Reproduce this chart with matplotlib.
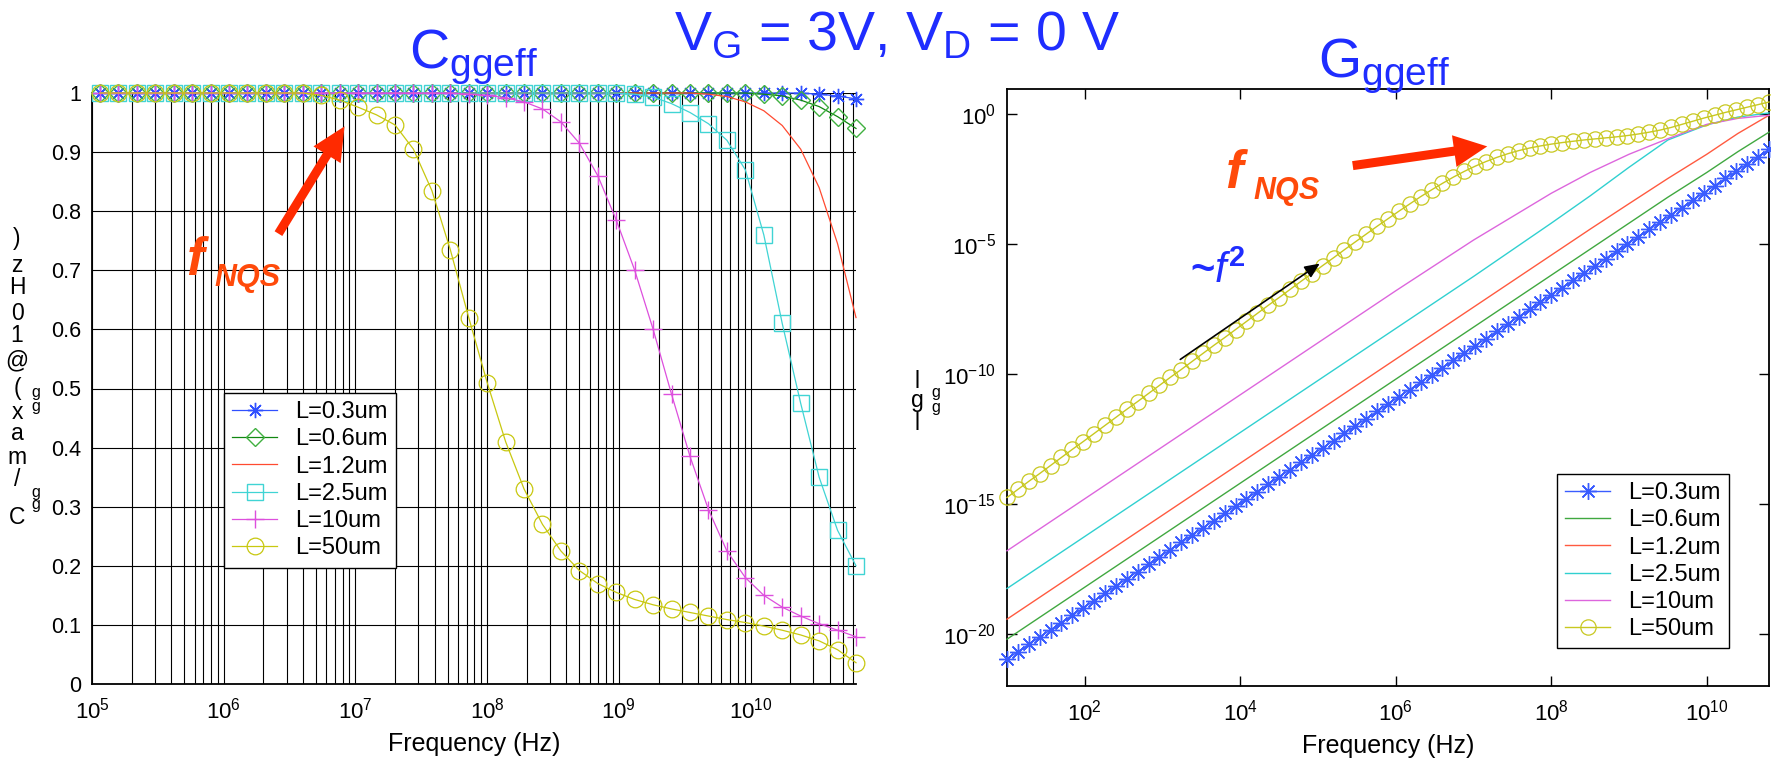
import numpy as np
import matplotlib
matplotlib.use('Agg')
import matplotlib.pyplot as plt
from matplotlib.patches import FancyArrowPatch
from matplotlib.ticker import FixedLocator, NullLocator, NullFormatter, LogFormatterMathtext, FuncFormatter

plt.rcParams['font.family'] = ['Liberation Sans', 'DejaVu Sans']
plt.rcParams['mathtext.fontset'] = 'custom'
plt.rcParams['mathtext.rm'] = 'Liberation Sans'
plt.rcParams['mathtext.it'] = 'Liberation Sans:italic'
plt.rcParams['mathtext.bf'] = 'Liberation Sans:bold'
plt.rcParams['mathtext.default'] = 'regular'

W, H = 1771, 759

labels = ['L=0.3um', 'L=0.6um', 'L=1.2um', 'L=2.5um', 'L=10um', 'L=50um']

# simulated frequency sweep: 10 Hz .. 63 GHz, 71 points
f_sweep = np.geomspace(10, 6.31e10, 71)
f_cap = f_sweep[29:]   # capacitance plot starts at ~100 kHz

# normalised Cgg_eff, one value per sweep point of f_cap
cgg_03 = [1.0, 1.0, 1.0, 1.0, 1.0, 1.0, 1.0, 1.0, 1.0, 1.0,
          1.0, 1.0, 1.0, 1.0, 1.0, 1.0, 1.0, 1.0, 1.0, 1.0,
          1.0, 1.0, 1.0, 1.0, 1.0, 1.0, 1.0, 1.0, 1.0, 1.0,
          1.0, 1.0, 1.0, 1.0, 1.0, 1.0, 1.0, 1.0, 1.0, 0.998,
          0.995, 0.99]
cgg_06 = [1.0, 1.0, 1.0, 1.0, 1.0, 1.0, 1.0, 1.0, 1.0, 1.0,
          1.0, 1.0, 1.0, 1.0, 1.0, 1.0, 1.0, 1.0, 1.0, 1.0,
          1.0, 1.0, 1.0, 1.0, 1.0, 1.0, 1.0, 1.0, 1.0, 1.0,
          1.0, 1.0, 1.0, 1.0, 1.0, 1.0, 0.998, 0.995, 0.988, 0.977,
          0.96, 0.94]
cgg_12 = [1.0, 1.0, 1.0, 1.0, 1.0, 1.0, 1.0, 1.0, 1.0, 1.0,
          1.0, 1.0, 1.0, 1.0, 1.0, 1.0, 1.0, 1.0, 1.0, 1.0,
          1.0, 1.0, 1.0, 1.0, 1.0, 1.0, 1.0, 1.0, 1.0, 1.0,
          1.0, 1.0, 1.0, 0.998, 0.994, 0.985, 0.97, 0.945, 0.905, 0.84,
          0.745, 0.62]
cgg_25 = [1.0, 1.0, 1.0, 1.0, 1.0, 1.0, 1.0, 1.0, 1.0, 1.0,
          1.0, 1.0, 1.0, 1.0, 1.0, 1.0, 1.0, 1.0, 1.0, 1.0,
          1.0, 1.0, 1.0, 1.0, 1.0, 1.0, 1.0, 1.0, 1.0, 0.998,
          0.993, 0.982, 0.967, 0.948, 0.92, 0.87, 0.76, 0.61, 0.475, 0.35,
          0.26, 0.2]
cgg_10 = [1.0, 1.0, 1.0, 1.0, 1.0, 1.0, 1.0, 1.0, 1.0, 1.0,
          1.0, 1.0, 1.0, 1.0, 1.0, 1.0, 1.0, 1.0, 1.0, 1.0,
          0.998, 0.996, 0.992, 0.985, 0.973, 0.951, 0.915, 0.86, 0.785, 0.70,
          0.60, 0.49, 0.385, 0.295, 0.225, 0.18, 0.15, 0.13, 0.115, 0.102,
          0.091, 0.08]
cgg_50 = [1.0, 1.0, 1.0, 1.0, 1.0, 1.0, 1.0, 1.0, 1.0, 1.0,
          1.0, 1.0, 0.996, 0.988, 0.976, 0.963, 0.946, 0.905, 0.835, 0.735,
          0.62, 0.51, 0.41, 0.33, 0.27, 0.225, 0.192, 0.17, 0.155, 0.143,
          0.134, 0.127, 0.121, 0.115, 0.109, 0.104, 0.098, 0.091, 0.083, 0.073,
          0.058, 0.036]

# |Ggg_eff| as log10, marker series on the full sweep
ggg_03_log = [-20.96, -20.68, -20.40, -20.12, -19.84, -19.56, -19.28, -19.00, -18.72, -18.44,
              -18.16, -17.88, -17.60, -17.32, -17.04, -16.76, -16.48, -16.20, -15.92, -15.64,
              -15.36, -15.08, -14.80, -14.52, -14.24, -13.96, -13.68, -13.40, -13.12, -12.84,
              -12.56, -12.28, -12.00, -11.72, -11.44, -11.16, -10.88, -10.60, -10.32, -10.04,
              -9.76, -9.48, -9.20, -8.92, -8.64, -8.36, -8.08, -7.80, -7.52, -7.24,
              -6.96, -6.68, -6.40, -6.12, -5.84, -5.56, -5.28, -5.00, -4.72, -4.44,
              -4.16, -3.88, -3.60, -3.32, -3.04, -2.76, -2.48, -2.20, -1.92, -1.64,
              -1.36]
ggg_50_log = [-14.75, -14.44, -14.13, -13.83, -13.52, -13.21, -12.90, -12.60, -12.29, -11.98,
              -11.67, -11.36, -11.06, -10.75, -10.44, -10.13, -9.83, -9.52, -9.21, -8.90,
              -8.60, -8.29, -7.98, -7.67, -7.36, -7.06, -6.75, -6.44, -6.14, -5.83,
              -5.53, -5.22, -4.92, -4.62, -4.32, -4.03, -3.74, -3.46, -3.18, -2.92,
              -2.67, -2.43, -2.21, -2.01, -1.83, -1.67, -1.53, -1.41, -1.31, -1.23,
              -1.16, -1.10, -1.05, -1.00, -0.96, -0.92, -0.88, -0.83, -0.77, -0.70,
              -0.62, -0.52, -0.40, -0.28, -0.16, -0.05, 0.06, 0.16, 0.26, 0.36,
              0.46]

# plain line series, log10(f) and log10|Ggg|
f_line_log = [1, 2, 3, 4, 5, 6, 7, 8, 8.5, 9, 9.5, 10, 10.4, 10.8]
ggg_06_log = [-20.2, -18.2, -16.2, -14.2, -12.2, -10.2, -8.2, -6.2, -5.2, -4.2, -3.2, -2.25, -1.45, -0.7]
ggg_12_log = [-19.43, -17.43, -15.43, -13.43, -11.43, -9.43, -7.43, -5.43, -4.43, -3.45, -2.48, -1.55, -0.75, -0.05]
ggg_25_log = [-18.25, -16.25, -14.25, -12.25, -10.25, -8.25, -6.25, -4.2, -3.15, -2.05, -1.0, -0.42, -0.12, 0.04]
ggg_10_log = [-16.8, -14.8, -12.8, -10.8, -8.8, -6.8, -4.85, -3.05, -2.25, -1.55, -0.95, -0.4, -0.17, -0.05]


def fig_xy(x, y):
    return x / W, 1 - y / H


fig = plt.figure(figsize=(W / 100, H / 100), dpi=100)

# ---------------- left: normalised Cgg ----------------
ax1 = fig.add_axes([92 / W, 1 - 684 / H, 764 / W, 591 / H])
ax1.set_xscale('log')
cap_style = [
    dict(color='#3050ff', marker=(8, 2, 0), ms=11, mew=1.0),
    dict(color='#118811', marker='D', ms=9, mfc='none', mec='#40b040', mew=1.0),
    dict(color='#ff4a30'),
    dict(color='#40d4d4', marker='s', ms=12, mfc='none', mew=1.0),
    dict(color='#dd4fdd', marker='+', ms=13, mew=1.0),
    dict(color='#c8c810', marker='o', ms=12, mfc='none', mew=0.9),
]
for ydata, st, lab in zip([cgg_03, cgg_06, cgg_12, cgg_25, cgg_10, cgg_50], cap_style, labels):
    ax1.plot(f_cap, ydata, lw=0.9, label=lab, clip_on=False, zorder=3, **st)

ax1.set_xlim(1e5, 6.31e10)
ax1.set_ylim(0, 1)
ax1.xaxis.set_major_locator(FixedLocator([1e5, 1e6, 1e7, 1e8, 1e9, 1e10]))
ax1.xaxis.set_major_formatter(LogFormatterMathtext())
ax1.xaxis.set_minor_locator(FixedLocator([m * 10.0 ** e for e in range(5, 11) for m in range(2, 10)]))
ax1.xaxis.set_minor_formatter(NullFormatter())
ax1.yaxis.set_major_locator(FixedLocator(np.arange(0, 1.01, 0.1)))
ax1.yaxis.set_major_formatter(FuncFormatter(lambda v, p: '%g' % round(v, 1)))
ax1.grid(True, which='both', color='black', lw=0.8)
ax1.set_axisbelow(True)
for s in ['top', 'right']:
    ax1.spines[s].set_visible(False)
for s in ['left', 'bottom']:
    ax1.spines[s].set_linewidth(1.3)
ax1.tick_params(which='both', direction='in', length=0)
ax1.tick_params(axis='x', labelsize=16, pad=10)
ax1.tick_params(axis='y', labelsize=15.5, pad=8)
ax1.set_xlabel('Frequency (Hz)', fontsize=18, labelpad=6)

leg_kw = dict(loc='upper left', bbox_transform=fig.transFigure, fontsize=17, frameon=True,
              fancybox=False, edgecolor='black', framealpha=1, handlelength=1.9,
              handletextpad=0.75, labelspacing=0.22, borderpad=0.35, borderaxespad=0)
leg1 = ax1.legend(bbox_to_anchor=fig_xy(224, 393), **leg_kw)
leg1.get_frame().set_linewidth(1.0)
leg1.set_zorder(5)

# stacked y label of the left plot
for ch, yy in zip(')zH01@(xam/C', [239, 265, 288, 313, 336, 361, 388, 412, 433, 457, 480, 517]):
    fig.text(*fig_xy(17, yy), ch, fontsize=16.5, ha='center', va='center')
for yy in [393, 406, 492, 505]:
    fig.text(*fig_xy(36, yy), 'g', fontsize=11.5, ha='center', va='center')

# ---------------- right: Ggg ----------------
ax2 = fig.add_axes([1007 / W, 1 - 686 / H, 762 / W, 597 / H])
ax2.set_xscale('log')
ax2.set_yscale('log')
ax2.plot(f_sweep, 10.0 ** np.array(ggg_03_log), color='#3a5cff', marker=(8, 2, 0), ms=12, mew=1.0,
         lw=1.0, label=labels[0], clip_on=False, zorder=4)
line_colors = ['#40a840', '#ff5a40', '#30d0d0', '#dd66dd']
for ydata, c, lab in zip([ggg_06_log, ggg_12_log, ggg_25_log, ggg_10_log], line_colors, labels[1:5]):
    ax2.plot(10.0 ** np.array(f_line_log), 10.0 ** np.array(ydata), color=c, lw=1.0, label=lab,
             clip_on=False, zorder=3)
ax2.plot(f_sweep, 10.0 ** np.array(ggg_50_log), color='#c8c820', marker='o', ms=11, mfc='none',
         mew=0.9, lw=1.0, label=labels[5], clip_on=False, zorder=4)

ax2.set_xlim(10, 6.31e10)
ax2.set_ylim(1e-22, 10 ** 0.96)
ax2.xaxis.set_major_locator(FixedLocator([1e2, 1e4, 1e6, 1e8, 1e10]))
ax2.yaxis.set_major_locator(FixedLocator([1e-20, 1e-15, 1e-10, 1e-5, 1e0]))
ax2.xaxis.set_major_formatter(LogFormatterMathtext())
ax2.yaxis.set_major_formatter(LogFormatterMathtext())
ax2.xaxis.set_minor_locator(NullLocator())
ax2.yaxis.set_minor_locator(NullLocator())
for s in ax2.spines.values():
    s.set_linewidth(1.3)
ax2.tick_params(which='both', direction='in', length=7, width=1, top=True, right=True)
ax2.tick_params(axis='x', labelsize=16, pad=10)
ax2.tick_params(axis='y', labelsize=16, pad=8)
ax2.set_xlabel('Frequency (Hz)', fontsize=18, labelpad=6)

leg2 = ax2.legend(bbox_to_anchor=fig_xy(1557, 474), **leg_kw)
leg2.get_frame().set_linewidth(1.0)
leg2.set_zorder(5)

# stacked y label of the right plot
fig.text(*fig_xy(917, 381), 'l', fontsize=16.5, ha='center', va='center')
fig.text(*fig_xy(917, 401), 'g', fontsize=16.5, ha='center', va='center')
fig.text(*fig_xy(917, 423), 'l', fontsize=16.5, ha='center', va='center')
for yy in [393, 407]:
    fig.text(*fig_xy(936, yy), 'g', fontsize=11.5, ha='center', va='center')

# ---------------- titles and annotations ----------------
blue = '#1f2dff'
fig.text(*fig_xy(473, 68), r'C$_{ggeff}$', fontsize=40, color=blue, ha='center', va='baseline')
fig.text(*fig_xy(897, 50), r'V$_G$ = 3V, V$_D$ = 0 V', fontsize=40, color=blue, ha='center', va='baseline')
fig.text(*fig_xy(1384, 77), r'G$_{ggeff}$', fontsize=40, color=blue, ha='center', va='baseline')

orange = '#ff4a0a'
fig.text(*fig_xy(186, 275), 'f', fontsize=38, color=orange, fontweight='bold', fontstyle='italic',
         va='baseline')
fig.text(*fig_xy(214, 286), 'NQS', fontsize=22, color=orange, fontweight='bold', fontstyle='italic',
         va='baseline')
fig.text(*fig_xy(1225, 188), 'f', fontsize=38, color=orange, fontweight='bold', fontstyle='italic',
         va='baseline')
fig.text(*fig_xy(1253, 199), 'NQS', fontsize=22, color=orange, fontweight='bold', fontstyle='italic',
         va='baseline')

red = '#ff2a00'
arrow_style = 'simple,head_length=24,head_width=23,tail_width=6.5'
for tail, tip in [((277, 236), (346, 124)), ((1350, 166), (1490, 146))]:
    fig.patches.append(FancyArrowPatch(fig_xy(*tail), fig_xy(*tip), transform=fig.transFigure,
                                       arrowstyle=arrow_style, mutation_scale=1, color=red,
                                       lw=0, zorder=6))

fig.text(*fig_xy(1190, 283), r'~$\mathit{f}^{2}$', fontsize=30, color=blue, fontweight='bold',
         va='baseline')
fig.patches.append(FancyArrowPatch(fig_xy(1178, 361), fig_xy(1322, 262), transform=fig.transFigure,
                                   arrowstyle='-|>,head_length=9,head_width=4', mutation_scale=1,
                                   color='black', lw=1.2, zorder=6))

fig.savefig('out.png', dpi=100)
